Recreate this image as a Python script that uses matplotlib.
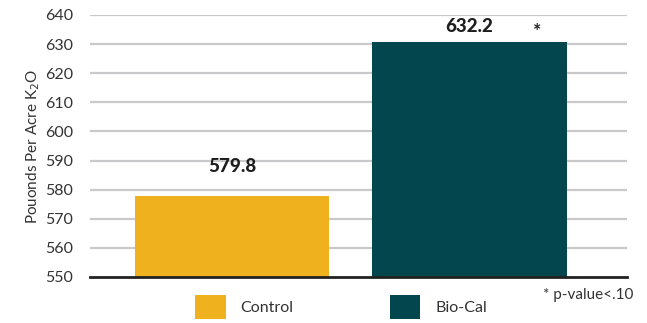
import matplotlib.pyplot as plt
from matplotlib.patches import Patch

categories = ['Control', 'Bio-Cal']
bar_heights = [577.9, 630.8]
value_labels = ['579.8', '632.2']
colors = ['#F0B11E', '#03464E']
yticks = list(range(550, 641, 10))

plt.rcParams['font.family'] = ['Lato', 'DejaVu Sans']

fig = plt.figure(figsize=(6.47, 3.23), dpi=100)
ax = fig.add_axes([90 / 647, 1 - 277 / 323, 537 / 647, 262 / 323])

x = [0, 1]
ax.bar(x, [h - 550 for h in bar_heights], bottom=550, width=0.82, color=colors, zorder=2)

ax.set_ylim(550, 640)
ax.set_xlim(-0.60, 1.665)
ax.set_yticks(yticks)
ax.set_yticklabels([str(t) for t in yticks], fontsize=11.5, color='#333333')
ax.tick_params(axis='y', length=0, pad=12)
ax.set_xticks([])
for t in yticks[1:]:
    ax.axhline(t, color='#C9C9CB', lw=1.6, zorder=1)
for s in ['top', 'right', 'left']:
    ax.spines[s].set_visible(False)
ax.spines['bottom'].set_color('#222222')
ax.spines['bottom'].set_linewidth(2)
ax.spines['bottom'].set_zorder(3)

ax.set_ylabel('Pouonds Per Acre K$_2$O', fontsize=11, color='#333333', labelpad=2)

# value labels above bars
offsets = [9.9, 5.1]
for xi, h, lab, off in zip(x, bar_heights, value_labels, offsets):
    ax.text(xi, h + off, lab, ha='center', va='center', fontsize=13.5,
            fontweight='black', color='#1E1E1E')
ax.text(1.285, 634.3, '*', ha='center', va='center', fontsize=14, fontweight='bold', color='#1E1E1E')

handles = [Patch(facecolor=c, edgecolor='none') for c in colors]
fig.legend(handles, categories, loc='center', bbox_to_anchor=(0.527, 0.05), ncol=2,
           frameon=False, fontsize=11.5, handlelength=1.9, handleheight=1.9,
           handletextpad=0.95, columnspacing=6.0, labelcolor='#333333')

fig.text(633 / 647, 1 - 295 / 323, '* p-value<.10', ha='right', va='center', fontsize=11,
         color='#333333')

fig.savefig('out.png', dpi=100)
